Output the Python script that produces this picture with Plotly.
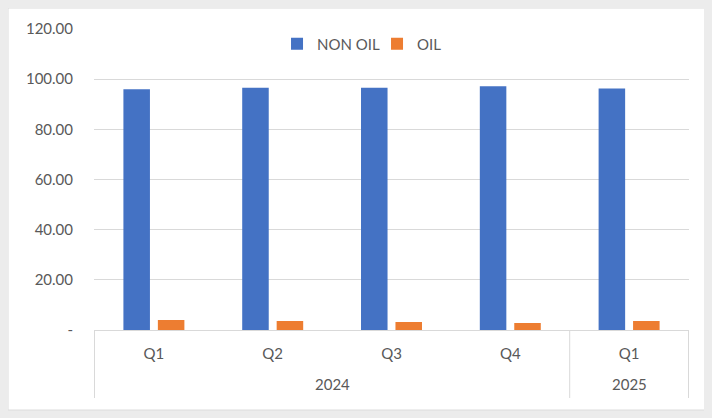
import plotly.graph_objects as go

years = ["2024", "2024", "2024", "2024", "2025"]
quarters = ["Q1", "Q2", "Q3", "Q4", "Q1"]
non_oil = [96.0, 96.6, 96.6, 97.2, 96.3]
oil = [4.0, 3.6, 3.2, 2.8, 3.6]
y_tickvals = [0, 20, 40, 60, 80, 100, 120]
y_ticktext = ["-", "20.00", "40.00", "60.00", "80.00", "100.00", "120.00"]

FONT = "Lato, Carlito, Liberation Sans, sans-serif"
GREY_TXT = "#595959"
GRID = "#d9d9d9"
OUTER = "#ececec"

cats = [f"{y} {q}" for y, q in zip(years, quarters)]

fig = go.Figure()
fig.add_trace(go.Bar(x=cats, y=non_oil, name="NON OIL",
                     marker=dict(color="#4472C4", line=dict(width=0))))
fig.add_trace(go.Bar(x=cats, y=oil, name="OIL",
                     marker=dict(color="#ED7D31", line=dict(width=0))))

# page is offset by 8px (body margin); work in figure coords
W, H = 704, 410
L, R, T, B = 86, 23, 21, 88
pw, ph = W - L - R, H - T - B

def px_x(x):
    return (x - L) / pw

def px_y(y):
    return (H - B - y) / ph

fig.add_shape(type="rect", xref="paper", yref="paper",
              x0=px_x(0), x1=px_x(698), y0=px_y(402), y1=px_y(0),
              fillcolor="white", line=dict(color="#dcdcdc", width=1), layer="below")

# group labels and dividers derived from years
groups = []
for i, yv in enumerate(years):
    if groups and groups[-1][0] == yv:
        groups[-1][2] = i
    else:
        groups.append([yv, i, i])
div_bottom = px_y(390)
for g, i0, i1 in groups:
    fig.add_annotation(x=(i0 + i1) / 2, xref="x", y=px_y(376), yref="paper",
                       text=g, showarrow=False, yanchor="middle",
                       font=dict(family=FONT, size=15, color=GREY_TXT))
    fig.add_shape(type="line", xref="x", yref="paper", x0=i0 - 0.5, x1=i0 - 0.5,
                  y0=div_bottom, y1=0, line=dict(color=GRID, width=1))
fig.add_shape(type="line", xref="x", yref="paper", x0=len(years) - 0.5, x1=len(years) - 0.5,
              y0=div_bottom, y1=0, line=dict(color=GRID, width=1))

fig.update_layout(
    width=W, height=H,
    margin=dict(l=L, r=R, t=T, b=B, pad=0),
    paper_bgcolor=OUTER,
    plot_bgcolor="white",
    font=dict(family=FONT, size=15, color=GREY_TXT),
    barmode="group",
    bargap=0.42,
    bargroupgap=0.23,
    showlegend=True,
    legend=dict(orientation="h", x=0.3076, y=1.005, xanchor="left", yanchor="top",
                bgcolor="rgba(0,0,0,0)", font=dict(family=FONT, size=15, color=GREY_TXT),
                itemwidth=30, entrywidth=55, entrywidthmode="pixels"),
)
fig.update_yaxes(range=[0, 120], tickvals=y_tickvals, ticktext=y_ticktext,
                 showgrid=True, gridcolor=GRID, gridwidth=1, zeroline=False,
                 showline=False, ticks="", ticklabelstandoff=20,
                 tickfont=dict(family=FONT, size=15, color=GREY_TXT))
fig.update_xaxes(type="category", tickvals=cats, ticktext=quarters,
                 showline=True, linecolor=GRID, linewidth=1, showgrid=False,
                 ticks="", ticklabelstandoff=10,
                 tickfont=dict(family=FONT, size=15, color=GREY_TXT))

fig.write_html("out.html", post_script=f"document.body.style.background='{OUTER}';")
